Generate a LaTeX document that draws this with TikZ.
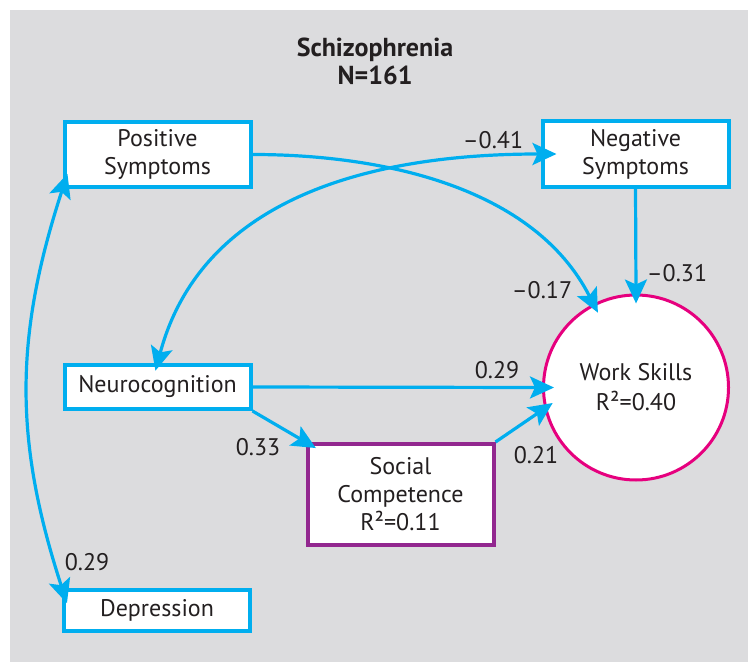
\documentclass[tikz,border=0pt]{standalone}
\usepackage{fontspec}
\setmainfont{PT Sans}
\usepackage{tikz}
\usetikzlibrary{positioning,
				arrows.meta,
				calc}
\definecolor{pathcyan}{RGB}{0,174,239}
\definecolor{workpink}{RGB}{230,0,126}
\definecolor{socpurple}{RGB}{146,39,143}
\definecolor{panelgray}{RGB}{220,220,222}
\definecolor{inkgray}{RGB}{35,31,32}
\tikzset{
	varbox/.style={draw=pathcyan, line width=2pt, fill=white, minimum width=93pt,
		align=center, inner sep=2pt, text=inkgray, font=\fontsize{12}{14}\selectfont},
	semlink/.style={draw=pathcyan, line width=1.6pt},
	coef/.style={inner sep=0pt, text=inkgray, font=\fontsize{12}{14}\selectfont},
	>={Stealth[length=12pt,width=11pt,inset=2.5pt]}
}
\begin{document}
\begin{tikzpicture}[x=0.5pt, y=0.5pt]
			\useasboundingbox (0,0) rectangle (748,-662);
			\fill[panelgray] (10,-10) rectangle (748,-662);
			\node[coef, align=center, font=\bfseries\fontsize{13}{14}\selectfont] (title) at (375,-61) {Schizophrenia\\N=161};
			% variables
			\node[varbox, minimum height=32.5pt] (pos) at (157.5,-154.5) {Positive\\Symptoms};
			\node[varbox, minimum height=33pt] (neg) at (635.5,-154) {Negative\\Symptoms};
			\node[varbox, minimum height=22pt] (neuro) at (157.5,-387) {Neurocognition};
			\node[varbox, minimum height=20.5pt] (dep) at (157,-610.5) {Depression};
			\node[varbox, draw=socpurple, minimum height=50.5pt] (soc) at (400.5,-494.5) {Social\\Competence\\R²=0.11};
			\node[circle, draw=workpink, line width=1.5pt, fill=white, minimum size=92.5pt, inner sep=0pt,
				align=center, text=inkgray, font=\fontsize{12}{15}\selectfont] (work) at (636,-387.5) {Work Skills\\R²=0.40};
			% paths
			\draw[semlink, <->, shorten <=-8pt, shorten >=-8pt] (pos.south west) to[out=252,in=108] (dep.north west);
			\draw[semlink, <->, shorten <=-4pt, shorten >=-8pt] (neuro.north) to[out=75,in=180] (neg.west);
			\draw[semlink, ->, shorten >=-5pt] (pos.east) to[out=0,in=117,looseness=0.9] (work.117);
			\draw[semlink, ->, shorten >=-5pt] (neg.south) -- (work.north);
			\draw[semlink, ->, shorten >=-6pt] (neuro.east) -- (work.west);
			\draw[semlink, ->, shorten >=-6pt] (neuro.south east) -- (soc.north west);
			\draw[semlink, ->, shorten >=-5pt] (soc.north east) -- (work.193);
			% coefficients
			\node[coef] (c41) at (493,-140) {–0.41};
			\node[coef] (c17) at (542,-290) {–0.17};
			\node[coef] (c31) at (677,-273) {–0.31};
			\node[coef] (c29) at (497,-370) {0.29};
			\node[coef] (c33) at (258,-447) {0.33};
			\node[coef] (c21) at (536,-455) {0.21};
			\node[coef] (cdep) at (87,-562) {0.29};
		\end{tikzpicture}
\end{document}
